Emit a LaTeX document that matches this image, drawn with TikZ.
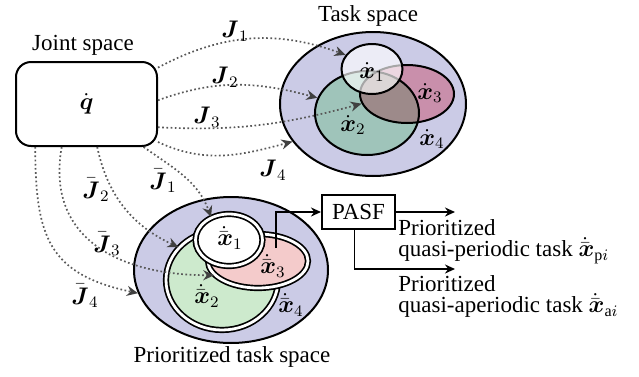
\documentclass[tikz,border=0pt]{standalone}
\usepackage{amsmath,amssymb}
\usepackage{fontspec}
\setmainfont{Liberation Serif}
\usepackage{tikz}
\usetikzlibrary{shapes.geometric,arrows.meta}

\definecolor{spacefill}{RGB}{203,203,230}
\definecolor{taskgreen}{RGB}{159,196,186}
\definecolor{taskpink}{RGB}{253,180,190}
\definecolor{priogreen}{RGB}{205,234,205}
\definecolor{priopink}{RGB}{244,203,203}

\begin{document}
\begin{tikzpicture}[
  x=0.5pt, y=-0.5pt,
  every node/.style={font=\fontsize{11.5}{9}\selectfont},
  space/.style={ellipse, draw, line width=1pt, fill=spacefill, inner sep=0},
  region/.style={ellipse, draw, line width=1pt, inner sep=0},
  prio/.style={ellipse, draw, line width=0.85pt, double=white, double distance=1.4pt, inner sep=0},
  map/.style={draw=black!65, line width=0.85pt, dash pattern=on 0.85pt off 1.25pt,
    -{Stealth[length=5.5pt, width=5pt, black!75]}},
  sig/.style={-{Stealth[length=5pt, width=4.5pt]}, line width=0.8pt},
  txt/.style={align=left, inner sep=0, anchor=north west}
]
\useasboundingbox (0,0) rectangle (639,376);

\node[draw, rounded corners=7.5pt, line width=1pt, minimum width=70.5pt, minimum height=42pt]
  (joint) at (86.5,104) {$\dot{\boldsymbol{q}}$};
\node (jointlbl) at (83,45) {Joint space};

% task space
\node[space, minimum width=93pt, minimum height=72pt] (tsp) at (373,104) {};
\node[region, fill=taskgreen, minimum width=52pt, minimum height=42pt] (tx2) at (367,113) {};
\node[region, fill=taskpink, blend mode=multiply, minimum width=47pt, minimum height=29pt] (tx3) at (407,94) {};
\node[region, fill=white, fill opacity=0.65, minimum width=30.5pt, minimum height=25pt] (tx1) at (372,69) {};
\node (tasklbl) at (368,16) {Task space};
\node (lx1) at (372,72) {$\dot{\boldsymbol{x}}_1$};
\node (lx2) at (353,125) {$\dot{\boldsymbol{x}}_2$};
\node (lx3) at (430,93) {$\dot{\boldsymbol{x}}_3$};
\node (lx4) at (432,139) {$\dot{\boldsymbol{x}}_4$};

% prioritized task space
\node[space, minimum width=97pt, minimum height=73pt] (psp) at (231,270) {};
\node[prio, fill=priogreen, minimum width=56pt, minimum height=50pt] (px2) at (222,280) {};
\node[prio, fill=priopink, minimum width=50pt, minimum height=27pt] (px3) at (258,261) {};
\node[prio, fill=white, minimum width=33.5pt, minimum height=26pt] (px1) at (229,240) {};
\node (priolbl) at (232,357) {Prioritized task space};
\node (lpx1) at (230,238) {$\dot{\bar{\boldsymbol{x}}}_1$};
\node (lpx2) at (207,296) {$\dot{\bar{\boldsymbol{x}}}_2$};
\node (lpx3) at (273,266) {$\dot{\bar{\boldsymbol{x}}}_3$};
\node (lpx4) at (291,305) {$\dot{\bar{\boldsymbol{x}}}_4$};

% Jacobian maps
\draw[map] (joint.27) to[out=28, in=160] (tx1.152);
\draw[map] (joint.3) to[out=20, in=165] (tx2.163);
\draw[map] (joint.-18) to[out=-3, in=195] (tx3.192);
\draw[map] (joint.-28) to[out=-25, in=195] (tsp.205);
\draw[map] (joint.-37) to[out=-35, in=110] (px1.128);
\draw[map] (joint.-76) to[out=-78, in=155] (px2.143);
\draw[map] (joint.-120) to[out=-100, in=180, looseness=1.2] (px3.198);
\draw[map] (joint.-140) to[out=-90, in=168, looseness=1.3] (psp.194);

\node (lj1) at (235,31) {$\boldsymbol{J}_1$};
\node (lj2) at (225,77) {$\boldsymbol{J}_2$};
\node (lj3) at (207,117) {$\boldsymbol{J}_3$};
\node (lj4) at (273,170) {$\boldsymbol{J}_4$};
\node (lbj1) at (163,181) {$\bar{\boldsymbol{J}}_1$};
\node (lbj2) at (96,190) {$\bar{\boldsymbol{J}}_2$};
\node (lbj3) at (107,244) {$\bar{\boldsymbol{J}}_3$};
\node (lbj4) at (85,296) {$\bar{\boldsymbol{J}}_4$};

% filter and its outputs
\node[draw, line width=1pt, minimum width=36.5pt, minimum height=17pt, inner sep=2pt]
  (pasf) at (358.5,212) {PASF};
\coordinate (tap) at (276,248);
\coordinate (outp) at (455,212);
\coordinate (outa) at (455,269);
\draw[sig] (tap) |- (pasf.west);
\draw[sig] (pasf.east) -- (outp);
\draw[sig] ([xshift=-2pt]pasf.south) |- (outa);

\node[txt] (ptask) at (398,219) {Prioritized\\quasi-periodic task $\dot{\bar{\boldsymbol{x}}}_{\mathrm{p}i}$};
\node[txt] (atask) at (398,275) {Prioritized\\quasi-aperiodic task $\dot{\bar{\boldsymbol{x}}}_{\mathrm{a}i}$};
\end{tikzpicture}
\end{document}
